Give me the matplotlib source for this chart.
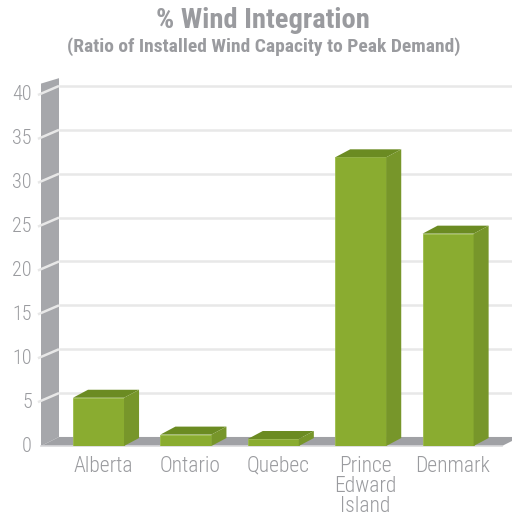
import matplotlib
matplotlib.use("Agg")
import matplotlib.pyplot as plt
from matplotlib.patches import Polygon

regions = ["Alberta", "Ontario", "Quebec", "Prince\nEdward\nIsland", "Denmark"]
wind_pct = [5.5, 1.3, 0.8, 32.9, 24.2]
yticks = [0, 5, 10, 15, 20, 25, 30, 35, 40]

plt.rcParams["font.family"] = ["Roboto Condensed", "Barlow Condensed", "DejaVu Sans"]
txt = "#9a9b9f"

# pseudo-3d geometry, in data units
xl, xr = -0.658, 4.617
dx, dy = 0.206, 1.03      # wall / floor depth
bdx, bdy = 0.172, 0.91    # bar depth
bw = 0.584
wall_top = 41.3

fig = plt.figure(figsize=(5.12, 5.20), dpi=100)
ax = fig.add_axes([41 / 512, 74 / 520, 461 / 512, 351 / 520])
ax.set_xlim(xl, xr)
ax.set_ylim(0, 40)
ax.axis("off")

# back wall gridlines and slanted ticks on side wall
for v in yticks[1:]:
    ax.plot([xl + dx, xr + 0.3], [v + dy, v + dy], color="#e8e8e8", lw=1.8,
            zorder=1, clip_on=False, solid_capstyle="butt")
ax.add_patch(Polygon([(xl, 0), (xl, wall_top), (xl + dx, wall_top + dy * 0.6),
                      (xl + dx, dy)], closed=True, fc="#a6a7ab", ec="none",
                     zorder=2, clip_on=False))
for v in yticks:
    if v > 0:
        ax.plot([xl - 0.035, xl + dx], [v, v + dy], color="#e8e8e8", lw=1.8,
                zorder=3, clip_on=False, solid_capstyle="butt")
    ax.text(-0.761, v, str(v), ha="right", va="center", fontsize=14.5,
            fontweight="light", color=txt)

# floor
ax.add_patch(Polygon([(xl, 0), (xr, 0), (xr + dx, dy), (xl + dx, dy)],
                     closed=True, fc="#a0a1a5", ec="none", zorder=3,
                     clip_on=False))
ax.plot([xl, xr], [0, 0], color="#d8d8da", lw=1.2, zorder=3, clip_on=False)

# bars: front, top, side faces
for i, v in enumerate(wind_pct):
    x0, x1 = i - bw / 2, i + bw / 2
    ax.add_patch(Polygon([(x0, 0), (x1, 0), (x1, v), (x0, v)], closed=True,
                         fc="#8aac30", ec="#9cbc4a", lw=0.6, zorder=5))
    ax.add_patch(Polygon([(x0, v), (x1, v), (x1 + bdx, v + bdy),
                          (x0 + bdx, v + bdy)], closed=True,
                         fc="#6b8b22", ec="none", zorder=5, clip_on=False))
    ax.add_patch(Polygon([(x1, 0), (x1, v), (x1 + bdx, v + bdy),
                          (x1 + bdx, bdy)], closed=True,
                         fc="#77962a", ec="none", zorder=5, clip_on=False))
    ax.text(i + 0.05, -1.1, regions[i], ha="center", va="top", fontsize=15.5,
            fontweight="light", color=txt, linespacing=0.95)

fig.text(0.513, 1 - 20 / 520, "% Wind Integration", ha="center",
         va="center", fontsize=20.5, fontweight="bold", color=txt)
fig.text(0.515, 1 - 47 / 520,
         "(Ratio of Installed Wind Capacity to Peak Demand)", ha="center",
         va="center", fontsize=14, fontweight="bold", color=txt)

fig.savefig("out.png", dpi=100)
